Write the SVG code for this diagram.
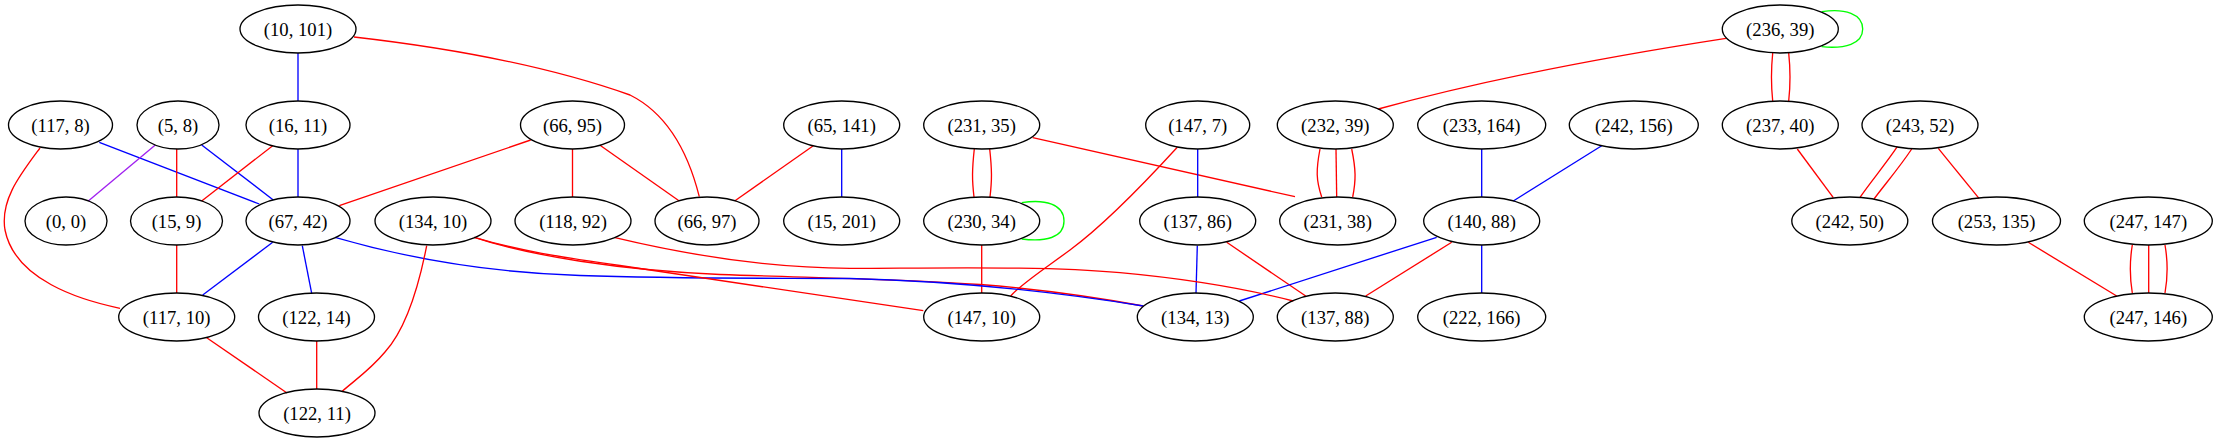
<svg xmlns="http://www.w3.org/2000/svg" width="2218" height="443" viewBox="0 0 2218 443">
<style>
.n ellipse{fill:none;stroke:#000;stroke-width:1.33}
.n text{font-family:"Liberation Serif","Times New Roman",serif;font-size:18.67px;text-anchor:middle;fill:#000}
.e path{fill:none;stroke-width:1.33}
.r{stroke:#ff0000}
.b{stroke:#0000ff}
.p{stroke:#a020f0}
.g{stroke:#00ff00}
</style>
<rect width="2218" height="443" fill="#fff"/>
<g id="edges" class="e">
<path class="b" d="M298,53 L298,101"/>
<path class="r" d="M354,37 Q520,56 630,95 Q680,120 699.3,196.7"/>
<path class="b" d="M99.3,142.3 L259.3,204"/>
<path class="r" d="M40,148 C20,175 0,200 5,230 C15,280 80,300 120,308.3"/>
<path class="p" d="M155,145.3 L88.3,201"/>
<path class="r" d="M176.7,149 L176.7,197"/>
<path class="b" d="M201.7,145 L273.3,200"/>
<path class="r" d="M272.7,145.7 L201.7,201"/>
<path class="b" d="M298,149 L298,197"/>
<path class="r" d="M530.7,140 L339.3,205.7"/>
<path class="r" d="M572.5,149 L572.5,197"/>
<path class="r" d="M600,145.3 L679.3,201"/>
<path class="r" d="M813.3,145.7 L735,200.7"/>
<path class="b" d="M841.7,149 L841.7,197"/>
<path class="r" d="M974.3,149 C972,170 972,180 974,197"/>
<path class="r" d="M989.7,149 C992,170 992,180 990,197"/>
<path class="r" d="M1032.7,137.7 L1295,196.7"/>
<path class="g" d="M1021.7,202.7 C1045,199 1064,204 1064,221 C1064,238 1045,242 1021.7,239"/>
<path class="r" d="M981.7,245 L981.7,293"/>
<path class="r" d="M1177.3,147.3 C1140,188 1100,228 1070,250 C1040,272 1020,285 1010.7,296"/>
<path class="b" d="M1197.7,149 L1197.7,197"/>
<path class="b" d="M1197.3,245.7 L1196,293.3"/>
<path class="r" d="M1226.7,242.3 L1305.7,296"/>
<path class="r" d="M1320,149 C1316,170 1316,180 1321.7,197"/>
<path class="r" d="M1336,149 L1336.7,197"/>
<path class="r" d="M1351.7,149 C1356,170 1356,180 1352.7,197"/>
<path class="r" d="M1726,38.3 Q1520,70 1378.3,109"/>
<path class="r" d="M1772.7,53 C1771,70 1771,85 1772.7,101"/>
<path class="r" d="M1788.7,53 C1790.5,70 1790.5,85 1788.7,101"/>
<path class="g" d="M1821.7,11.7 C1845,8 1862.7,14 1862.7,29 C1862.7,44 1845,49 1821.7,46.7"/>
<path class="r" d="M1797.3,149 L1833.3,197.7"/>
<path class="r" d="M1897.3,146.7 C1885,165 1872,180 1860,197.3"/>
<path class="r" d="M1911.7,149 C1899,168 1886,183 1874,199"/>
<path class="r" d="M1938.3,148.3 L1979,198.3"/>
<path class="r" d="M2028.3,242.3 L2116.7,296"/>
<path class="r" d="M2132.3,245 C2129.5,262 2129.5,276 2132.3,293"/>
<path class="r" d="M2148.7,245 L2148.7,293"/>
<path class="r" d="M2165,245 C2168,262 2168,276 2165,293"/>
<path class="b" d="M1601.7,145.7 L1513.3,201"/>
<path class="b" d="M1481.7,149 L1481.7,197"/>
<path class="b" d="M1481.7,245 L1481.7,293"/>
<path class="b" d="M1436.7,237.3 L1239.3,301"/>
<path class="r" d="M1451.7,242.3 L1365.7,296"/>
<path class="b" d="M272.7,242.3 L202.7,295"/>
<path class="b" d="M302.3,245.7 L311.7,293.3"/>
<path class="r" d="M474.3,237.3 C530,256 620,270 720,274.5 C820,278 900,279 980,284.5 C1050,290 1100,298 1143.3,306"/>
<path class="b" d="M335,237.3 C420,262 500,273 580,275.5 C680,279 780,278 850,278.5 C950,281 1050,291 1143.3,306"/>
<path class="r" d="M474.3,237.3 C520,251 560,257 620,265.5 L923.3,310.7"/>
<path class="r" d="M426.7,245.7 C418,290 405,330 385,352 C370,370 355,380 341.7,391.7"/>
<path class="r" d="M615,237.7 C700,258 780,268 850,268.3 C950,268 1050,266 1120,272.7 C1200,280 1250,290 1293.3,301"/>
<path class="r" d="M206.7,337.7 L287,393"/>
<path class="r" d="M316.7,341 L316.7,389"/>
<path class="r" d="M176.7,245 L176.7,293"/>
</g>
<g id="n117_8" class="n"><ellipse cx="60.5" cy="125" rx="52" ry="24"/><text x="60.5" y="131.5">(117, 8)</text></g>
<g id="n5_8" class="n"><ellipse cx="178" cy="125" rx="41" ry="24"/><text x="178" y="131.5">(5, 8)</text></g>
<g id="n16_11" class="n"><ellipse cx="298" cy="125" rx="52" ry="24"/><text x="298" y="131.5">(16, 11)</text></g>
<g id="n10_101" class="n"><ellipse cx="298" cy="29" rx="58" ry="24"/><text x="298" y="35.5">(10, 101)</text></g>
<g id="n0_0" class="n"><ellipse cx="66" cy="221" rx="41" ry="24"/><text x="66" y="227.5">(0, 0)</text></g>
<g id="n15_9" class="n"><ellipse cx="176.5" cy="221" rx="46" ry="24"/><text x="176.5" y="227.5">(15, 9)</text></g>
<g id="n67_42" class="n"><ellipse cx="298" cy="221" rx="52" ry="24"/><text x="298" y="227.5">(67, 42)</text></g>
<g id="n134_10" class="n"><ellipse cx="433" cy="221" rx="58" ry="24"/><text x="433" y="227.5">(134, 10)</text></g>
<g id="n117_10" class="n"><ellipse cx="176.7" cy="317" rx="58" ry="24"/><text x="176.7" y="323.5">(117, 10)</text></g>
<g id="n122_14" class="n"><ellipse cx="316.5" cy="317" rx="58" ry="24"/><text x="316.5" y="323.5">(122, 14)</text></g>
<g id="n122_11" class="n"><ellipse cx="317" cy="413" rx="58" ry="24"/><text x="317" y="419.5">(122, 11)</text></g>
<g id="n66_95" class="n"><ellipse cx="572.5" cy="125" rx="52" ry="24"/><text x="572.5" y="131.5">(66, 95)</text></g>
<g id="n118_92" class="n"><ellipse cx="573" cy="221" rx="58" ry="24"/><text x="573" y="227.5">(118, 92)</text></g>
<g id="n66_97" class="n"><ellipse cx="707" cy="221" rx="52" ry="24"/><text x="707" y="227.5">(66, 97)</text></g>
<g id="n65_141" class="n"><ellipse cx="841.7" cy="125" rx="58" ry="24"/><text x="841.7" y="131.5">(65, 141)</text></g>
<g id="n15_201" class="n"><ellipse cx="841.7" cy="221" rx="58" ry="24"/><text x="841.7" y="227.5">(15, 201)</text></g>
<g id="n231_35" class="n"><ellipse cx="981.7" cy="125" rx="58" ry="24"/><text x="981.7" y="131.5">(231, 35)</text></g>
<g id="n230_34" class="n"><ellipse cx="981.7" cy="221" rx="58" ry="24"/><text x="981.7" y="227.5">(230, 34)</text></g>
<g id="n147_10" class="n"><ellipse cx="981.7" cy="317" rx="58" ry="24"/><text x="981.7" y="323.5">(147, 10)</text></g>
<g id="n147_7" class="n"><ellipse cx="1197.7" cy="125" rx="52" ry="24"/><text x="1197.7" y="131.5">(147, 7)</text></g>
<g id="n232_39" class="n"><ellipse cx="1335.3" cy="125" rx="58" ry="24"/><text x="1335.3" y="131.5">(232, 39)</text></g>
<g id="n137_86" class="n"><ellipse cx="1197.7" cy="221" rx="58" ry="24"/><text x="1197.7" y="227.5">(137, 86)</text></g>
<g id="n231_38" class="n"><ellipse cx="1337.7" cy="221" rx="58" ry="24"/><text x="1337.7" y="227.5">(231, 38)</text></g>
<g id="n134_13" class="n"><ellipse cx="1195.3" cy="317" rx="58" ry="24"/><text x="1195.3" y="323.5">(134, 13)</text></g>
<g id="n137_88" class="n"><ellipse cx="1335.3" cy="317" rx="58" ry="24"/><text x="1335.3" y="323.5">(137, 88)</text></g>
<g id="n233_164" class="n"><ellipse cx="1481.7" cy="125" rx="64" ry="24"/><text x="1481.7" y="131.5">(233, 164)</text></g>
<g id="n242_156" class="n"><ellipse cx="1633.8" cy="125" rx="64.5" ry="24"/><text x="1633.8" y="131.5">(242, 156)</text></g>
<g id="n140_88" class="n"><ellipse cx="1481.7" cy="221" rx="58" ry="24"/><text x="1481.7" y="227.5">(140, 88)</text></g>
<g id="n222_166" class="n"><ellipse cx="1481.7" cy="317" rx="64" ry="24"/><text x="1481.7" y="323.5">(222, 166)</text></g>
<g id="n236_39" class="n"><ellipse cx="1780.3" cy="29" rx="58" ry="24"/><text x="1780.3" y="35.5">(236, 39)</text></g>
<g id="n237_40" class="n"><ellipse cx="1780.3" cy="125" rx="58" ry="24"/><text x="1780.3" y="131.5">(237, 40)</text></g>
<g id="n243_52" class="n"><ellipse cx="1920" cy="125" rx="58" ry="24"/><text x="1920" y="131.5">(243, 52)</text></g>
<g id="n242_50" class="n"><ellipse cx="1849.8" cy="221" rx="58" ry="24"/><text x="1849.8" y="227.5">(242, 50)</text></g>
<g id="n253_135" class="n"><ellipse cx="1996.5" cy="221" rx="64" ry="24"/><text x="1996.5" y="227.5">(253, 135)</text></g>
<g id="n247_147" class="n"><ellipse cx="2148.3" cy="221" rx="64" ry="24"/><text x="2148.3" y="227.5">(247, 147)</text></g>
<g id="n247_146" class="n"><ellipse cx="2148.3" cy="317" rx="64" ry="24"/><text x="2148.3" y="323.5">(247, 146)</text></g>
</svg>
